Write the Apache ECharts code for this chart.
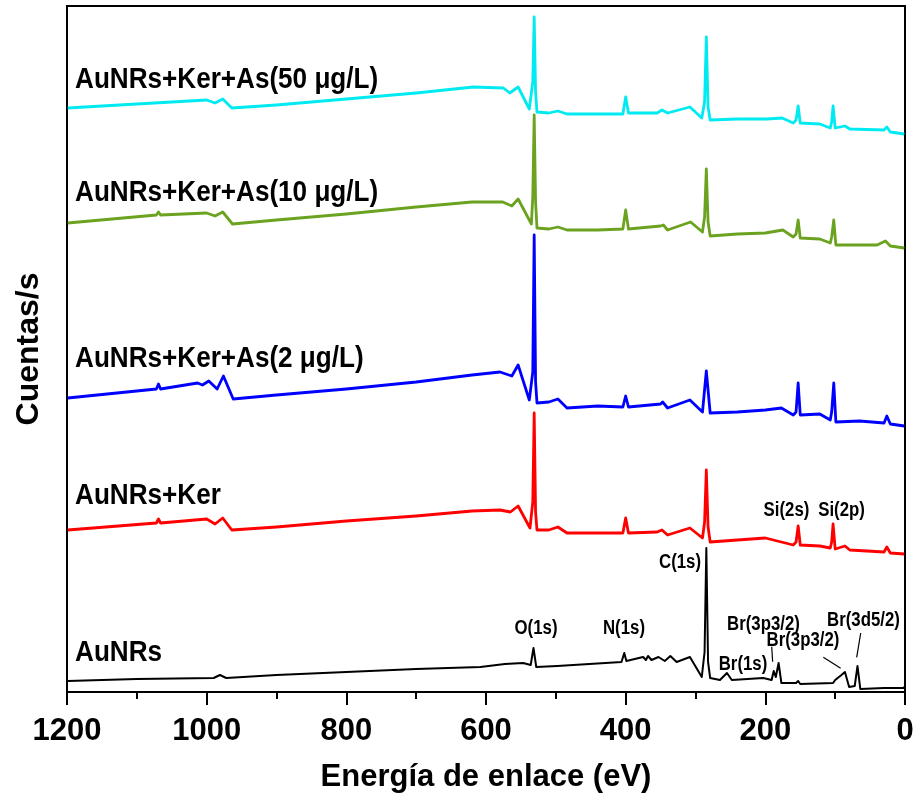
<!DOCTYPE html>
<html>
<head>
<meta charset="utf-8">
<script src="https://cdn.jsdelivr.net/npm/echarts@6/dist/echarts.min.js"></script>
<style>
  html, body { margin: 0; padding: 0; background: #fff; }
  #chart { width: 917px; height: 793px; }
</style>
</head>
<body>
<div id="chart"></div>
<script>
// XPS survey spectra, binding energy (eV) vs counts (arbitrary, stacked offsets)
const seriesNames = ['AuNRs', 'AuNRs+Ker', 'AuNRs+Ker+As(2 μg/L)', 'AuNRs+Ker+As(10 μg/L)', 'AuNRs+Ker+As(50 μg/L)'];
const seriesColors = ['#000000', '#ff0000', '#0000ff', '#6ba21f', '#00eaf2'];

const specAuNRs = [
  [1199, 11], [1100, 13], [990, 14], [981, 17], [972, 14], [900, 17], [800, 20], [700, 23], [608, 25],
  [573, 28], [547, 29], [536, 27], [532, 44], [528, 25], [498, 26], [406, 30], [402, 39], [399, 31],
  [375, 35], [371, 32], [368, 36], [363, 32], [353, 35], [344, 31], [336, 36], [327, 30], [308, 35],
  [291, 15], [287, 40], [284.5, 144], [282, 30], [279, 14], [265, 12], [255, 19], [248, 12], [203, 14], [191, 12], [188, 21],
  [185, 15], [181, 29], [177, 9], [156, 9], [153, 11], [150, 8], [103, 9], [100, 12], [91, 17], [86, 20],
  [84, 18], [80, 5], [72, 6], [68, 26], [64, 3], [30, 4], [2, 4], [0, 6]
];

const specKer = [
  [1199, 162], [1072, 169], [1069, 173], [1066, 169], [1000, 173], [988, 168], [977, 174], [964, 162],
  [900, 165], [800, 171], [700, 176], [620, 181], [580, 182], [565, 180], [554, 186], [537, 164],
  [533, 190], [531, 279], [529, 180], [527, 162], [510, 162], [497, 165], [484, 159], [404, 159], [400, 174], [396, 159],
  [355, 160], [348, 162], [340, 157], [308, 164], [290, 154], [287, 170], [284.5, 222], [282, 165], [279, 150], [240, 152],
  [200, 154], [160, 147], [156, 150], [153, 166], [150, 147], [122, 146], [107, 144], [105, 150], [103, 168], [100, 143],
  [86, 146], [79, 142], [30, 140], [26, 145], [21, 139], [1, 138]
];

const specAs2 = [
  [1199, 294], [1072, 303], [1069, 308], [1066, 303], [1013, 309], [1006, 307], [997, 311], [985, 303],
  [976, 316], [962, 293], [900, 297], [800, 303], [700, 310], [620, 317], [580, 320], [563, 316],
  [554, 327], [538, 292], [533, 320], [531, 457], [529, 310], [527, 289], [510, 290], [497, 293], [484, 284], [440, 286],
  [404, 285], [400, 296], [396, 285], [350, 288], [347, 290], [340, 284], [308, 292], [290, 280],
  [284.5, 321], [279, 279], [240, 280], [200, 282], [177, 284], [160, 277], [156, 280], [153, 309], [150, 277],
  [122, 278], [107, 272], [105, 280], [102, 309], [99, 270], [65, 271], [30, 269], [26, 276], [21, 268], [1, 266]
];

const specAs10 = [
  [1199, 469], [1072, 477], [1069, 480], [1066, 477], [1000, 479], [988, 476], [977, 480], [963, 468],
  [900, 472], [800, 478], [700, 485], [620, 490], [576, 490], [563, 486], [554, 493], [535, 468],
  [533, 495], [531, 577], [529, 490], [527, 464], [510, 463], [497, 465], [484, 462], [440, 462], [404, 463], [400, 482],
  [396, 463], [350, 466], [346, 467], [340, 462], [307, 470], [290, 460], [287, 475], [284.5, 523], [282, 470], [279, 456],
  [240, 458], [200, 459], [175, 462], [160, 455], [156, 458], [153, 472], [150, 454], [122, 453], [107, 449],
  [105, 455], [102, 472], [99, 447], [40, 447], [28, 451], [21, 446], [1, 444]
];

const specAs50 = [
  [1199, 584], [1100, 588], [1000, 592], [988, 589], [977, 593], [964, 584], [900, 587], [800, 593],
  [700, 599], [618, 605], [575, 604], [566, 599], [554, 605], [538, 583], [533, 610], [531, 675], [529, 600], [527, 580],
  [510, 579], [497, 581], [484, 578], [404, 578], [400, 595], [396, 579], [355, 579], [348, 582],
  [340, 579], [308, 585], [291, 574], [287, 590], [284.5, 655], [282, 585], [279, 572], [240, 573], [198, 573], [176, 574],
  [160, 569], [156, 572], [153, 586], [150, 569], [122, 568], [107, 564], [105, 570], [103, 586], [100, 564], [86, 566],
  [79, 563], [30, 562], [26, 565], [21, 560], [1, 558]
];

const spectra = [specAuNRs, specKer, specAs2, specAs10, specAs50];
const xTicks = [0, 200, 400, 600, 800, 1000, 1200];

// Curve names, anchored at [energy, counts] (left edge, vertical centre)
const nameLabelPos = [[1188.5, 39.5], [1188.5, 196], [1188.5, 333.5], [1188.5, 499], [1188.5, 612]];

// Peak assignments, centred at [energy, counts]
const peakLabels = [
  ['O(1s)', 528.4, 64], ['N(1s)', 402.4, 64], ['C(1s)', 322.2, 130],
  ['Si(2s)', 169.7, 182], ['Si(2p)', 90.9, 182], ['Br(1s)', 232, 28],
  ['Br(3p3/2)', 202.6, 68], ['Br(3p3/2)', 146.1, 52], ['Br(3d5/2)', 59.4, 72]
];

// Leader lines from labels to peaks: [E1, c1, E2, c2]
const leaderLines = [
  [190.9, 45.3, 189.5, 30.3],
  [117.0, 34.7, 92.1, 23.7],
  [63.4, 59.0, 69.2, 34.7]
];

const sans = '"Liberation Sans", Arial, Helvetica, sans-serif';

const chart = echarts.init(document.getElementById('chart'), null, { renderer: 'canvas' });

const lineSeries = spectra.map((d, i) => ({
  type: 'line',
  name: seriesNames[i],
  data: d,
  showSymbol: false,
  symbol: 'none',
  lineStyle: { color: seriesColors[i], width: i === 0 ? 2 : 2.8, join: 'round' },
  z: 2 + i,
  silent: true
}));

lineSeries[0].markLine = {
  silent: true,
  symbol: 'none',
  label: { show: false },
  emphasis: { disabled: true },
  lineStyle: { color: '#000', width: 1.2, type: 'solid' },
  data: leaderLines.map(l => [{ coord: [l[0], l[1]] }, { coord: [l[2], l[3]] }])
};

chart.setOption({
  animation: false,
  backgroundColor: '#fff',
  grid: {
    left: 67, right: 12, top: 6, bottom: 101, containLabel: false, outerBoundsMode: 'none',
    show: true, borderColor: '#000', borderWidth: 2, backgroundColor: 'transparent'
  },
  xAxis: {
    type: 'value', min: 0, max: 1200, interval: 200, inverse: true,
    name: 'Energía de enlace (eV)', nameLocation: 'middle', nameGap: 70,
    nameTextStyle: { fontFamily: sans, fontWeight: 'bold', fontSize: 31, color: '#000' },
    axisLine: { show: true, lineStyle: { color: '#000', width: 2 } },
    axisTick: { show: true, length: 13, lineStyle: { color: '#000', width: 2 } },
    minorTick: { show: true, splitNumber: 2, length: 7, lineStyle: { color: '#000', width: 2 } },
    axisLabel: {
      fontFamily: sans, fontWeight: 'bold', fontSize: 31, color: '#000', margin: 24,
      showMinLabel: true, showMaxLabel: true,
      formatter: v => xTicks.indexOf(v) >= 0 ? String(v) : ''
    },
    splitLine: { show: false }
  },
  yAxis: {
    type: 'value', min: 0, max: 686,
    name: 'Cuentas/s', nameLocation: 'middle', nameGap: 22, nameRotate: 90,
    nameTextStyle: { fontFamily: sans, fontWeight: 'bold', fontSize: 32, color: '#000' },
    axisLine: { show: true, lineStyle: { color: '#000', width: 2 } },
    axisTick: { show: false },
    axisLabel: { show: false },
    splitLine: { show: false }
  },
  series: lineSeries
});

// Text annotations placed through the grid's coordinate system, drawn condensed
const toPx = p => chart.convertToPixel({ gridIndex: 0 }, p);
const graphics = [];
nameLabelPos.forEach((p, i) => {
  const [x, y] = toPx(p);
  graphics.push({
    type: 'text', x: x, y: y, scaleX: 0.87, z: 100, silent: true,
    style: {
      text: seriesNames[i], fill: '#000',
      font: 'bold 30px ' + sans, textAlign: 'left', textVerticalAlign: 'middle'
    }
  });
});
peakLabels.forEach(p => {
  const [x, y] = toPx([p[1], p[2]]);
  graphics.push({
    type: 'text', x: x, y: y, scaleX: 0.84, z: 100, silent: true,
    style: {
      text: p[0], fill: '#000',
      font: 'bold 20px ' + sans, textAlign: 'center', textVerticalAlign: 'middle'
    }
  });
});
chart.setOption({ graphic: { elements: graphics } });
</script>
</body>
</html>
